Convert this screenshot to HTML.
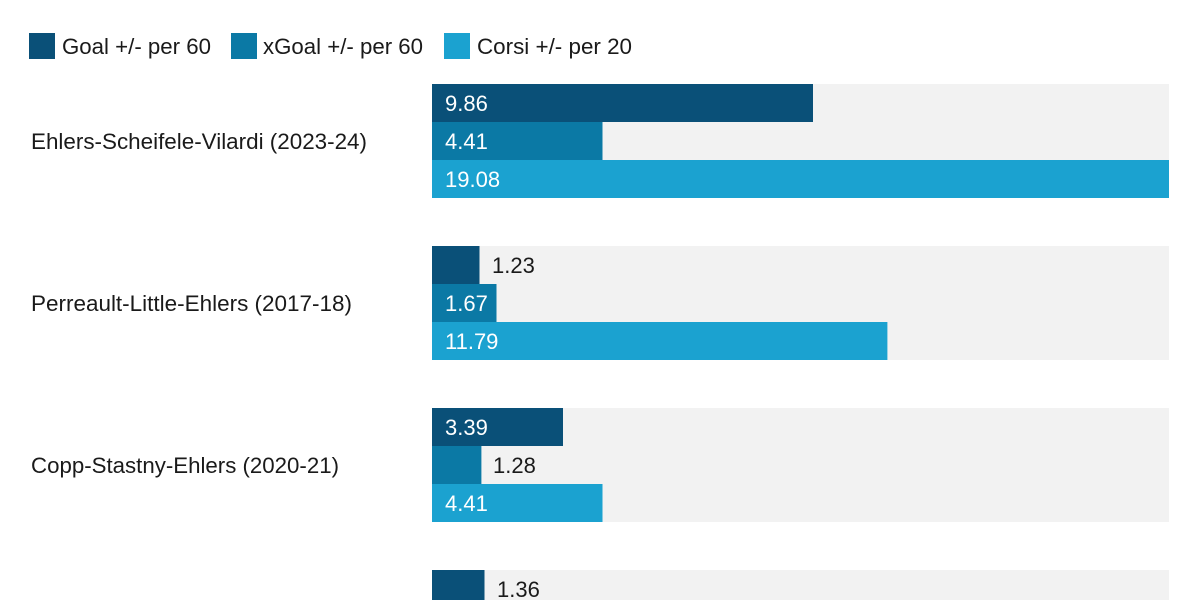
<!DOCTYPE html>
<html>
<head>
<meta charset="utf-8">
<style>
  html,body{margin:0;padding:0;background:#fff;width:1200px;height:600px;overflow:hidden;}
  svg{display:block;}
  text{font-family:"Liberation Sans",Arial,sans-serif;}
</style>
</head>
<body>
<svg width="1200" height="600" viewBox="0 0 1200 600" xmlns="http://www.w3.org/2000/svg">
  <rect width="1200" height="600" fill="#ffffff"/>

  <!-- Legend -->
  <rect x="29" y="33" width="26" height="26" fill="#0a5078"/>
  <text x="62" y="54" font-size="22" fill="#1a1a1a" textLength="149" lengthAdjust="spacingAndGlyphs">Goal +/- per 60</text>
  <rect x="231" y="33" width="26" height="26" fill="#0b79a5"/>
  <text x="263" y="54" font-size="22" fill="#1a1a1a" textLength="160" lengthAdjust="spacingAndGlyphs">xGoal +/- per 60</text>
  <rect x="444" y="33" width="26" height="26" fill="#1ba2d0"/>
  <text x="477" y="54" font-size="22" fill="#1a1a1a" textLength="155" lengthAdjust="spacingAndGlyphs">Corsi +/- per 20</text>

  <!-- Group 1 -->
  <text x="31" y="149" font-size="22" fill="#1a1a1a" textLength="336" lengthAdjust="spacingAndGlyphs">Ehlers-Scheifele-Vilardi (2023-24)</text>
  <rect x="432" y="84" width="737" height="114" fill="#f2f2f2"/>
  <rect x="432" y="84" width="381" height="38" fill="#0a5078"/>
  <rect x="432" y="122" width="170.5" height="38" fill="#0b79a5"/>
  <rect x="432" y="160" width="737" height="38" fill="#1ba2d0"/>
  <text x="445" y="111" font-size="22" fill="#ffffff">9.86</text>
  <text x="445" y="149" font-size="22" fill="#ffffff">4.41</text>
  <text x="445" y="187" font-size="22" fill="#ffffff">19.08</text>

  <!-- Group 2 -->
  <text x="31" y="311" font-size="22" fill="#1a1a1a" textLength="321" lengthAdjust="spacingAndGlyphs">Perreault-Little-Ehlers (2017-18)</text>
  <rect x="432" y="246" width="737" height="114" fill="#f2f2f2"/>
  <rect x="432" y="246" width="47.5" height="38" fill="#0a5078"/>
  <rect x="432" y="284" width="64.5" height="38" fill="#0b79a5"/>
  <rect x="432" y="322" width="455.4" height="38" fill="#1ba2d0"/>
  <text x="492" y="273" font-size="22" fill="#1a1a1a">1.23</text>
  <text x="445" y="311" font-size="22" fill="#ffffff">1.67</text>
  <text x="445" y="349" font-size="22" fill="#ffffff">11.79</text>

  <!-- Group 3 -->
  <text x="31" y="473" font-size="22" fill="#1a1a1a" textLength="308" lengthAdjust="spacingAndGlyphs">Copp-Stastny-Ehlers (2020-21)</text>
  <rect x="432" y="408" width="737" height="114" fill="#f2f2f2"/>
  <rect x="432" y="408" width="131" height="38" fill="#0a5078"/>
  <rect x="432" y="446" width="49.4" height="38" fill="#0b79a5"/>
  <rect x="432" y="484" width="170.5" height="38" fill="#1ba2d0"/>
  <text x="445" y="435" font-size="22" fill="#ffffff">3.39</text>
  <text x="493" y="473" font-size="22" fill="#1a1a1a">1.28</text>
  <text x="445" y="511" font-size="22" fill="#ffffff">4.41</text>

  <!-- Group 4 (cut off at frame edge) -->
  <rect x="432" y="570" width="737" height="30" fill="#f2f2f2"/>
  <rect x="432" y="570" width="52.5" height="30" fill="#0a5078"/>
  <text x="497" y="597" font-size="22" fill="#1a1a1a">1.36</text>
</svg>
</body>
</html>
